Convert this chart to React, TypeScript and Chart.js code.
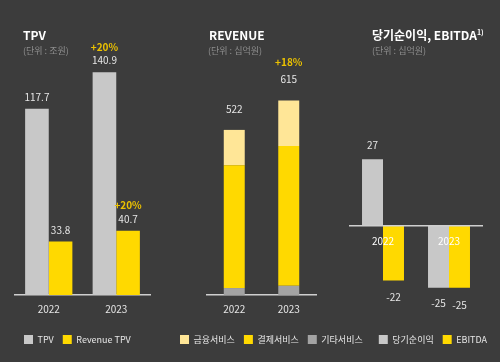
import React, { useEffect, useRef } from "react";
import { Chart, registerables } from "chart.js";

Chart.register(...registerables);

// ---------- data ----------
const YEARS = ["2022", "2023"];

// TPV panel (단위 : 조원)
const TPV = [117.7, 140.9];
const REVENUE_TPV = [33.8, 40.7];
const TPV_GROWTH = ["", "+20%"];
const REVENUE_TPV_GROWTH = ["", "+20%"];

// REVENUE panel (단위 : 십억원)
const FIN_SERVICE = [112, 144]; // 금융서비스
const PAY_SERVICE = [388, 442]; // 결제서비스
const OTHER_SERVICE = [22, 29]; // 기타서비스
const REVENUE_TOTAL = [522, 615];
const REVENUE_GROWTH = ["", "+18%"];

// 당기순이익 / EBITDA panel (단위 : 십억원)
const NET_INCOME = [27, -25];
const EBITDA = [-22, -25];

// ---------- style ----------
const FONT = "'Noto Sans CJK KR', 'Noto Sans', sans-serif";
const BG = "#3c3c3c";
const GREY = "#c8c8c8";
const YELLOW = "#ffd900";
const LIGHT_YELLOW = "#ffe697";
const DARK_GREY = "#a3a3a3";
const AXIS = "#cfcfcf";
const TEXT = "#e6e6e6";
const SUB = "#8e8e8e";
const GROWTH = "#ecc200";

const W = 500;
const H = 362;

type Lbl = { ds: number; i: number; text: string; color: string; dy: number; bold?: boolean };

function labelPlugin(labels: Lbl[]) {
  return {
    id: "barLabels",
    afterDatasetsDraw(chart: any) {
      const ctx = chart.ctx;
      for (const l of labels) {
        if (!l.text) continue;
        const el = chart.getDatasetMeta(l.ds).data[l.i];
        if (!el) continue;
        const p = el.getProps(["x", "y", "base"], true);
        const neg = p.y > p.base;
        ctx.save();
        ctx.font = `${l.bold ? "600 " : ""}10px ${FONT}`;
        ctx.fillStyle = l.color;
        ctx.textAlign = "center";
        ctx.textBaseline = neg ? "top" : "alphabetic";
        ctx.fillText(l.text, p.x, neg ? p.y + l.dy : p.y - l.dy);
        ctx.restore();
      }
    },
  };
}

function spacer(position: string, size: number, horizontal = false) {
  return {
    position,
    display: true,
    grid: { display: false, drawTicks: false },
    border: { display: false },
    ticks: { display: false },
    afterFit: (s: any) => {
      if (horizontal) s.height = size;
      else s.width = size;
    },
  };
}

const legendOpts = (align: string, reverse = false) => ({
  position: "bottom",
  align,
  reverse,
  labels: {
    boxWidth: 9,
    boxHeight: 9,
    padding: 9,
    color: TEXT,
    font: { size: 9, family: FONT },
  },
});

const xTicks = {
  color: TEXT,
  padding: 8,
  font: { size: 10, family: FONT },
};

function tpvConfig(): any {
  const labels: Lbl[] = [];
  TPV.forEach((v, i) => {
    labels.push({ ds: 0, i, text: v.toFixed(1), color: TEXT, dy: 8 });
    labels.push({ ds: 0, i, text: TPV_GROWTH[i], color: GROWTH, dy: 21, bold: true });
  });
  REVENUE_TPV.forEach((v, i) => {
    labels.push({ ds: 1, i, text: v.toFixed(1), color: TEXT, dy: 8 });
    labels.push({ ds: 1, i, text: REVENUE_TPV_GROWTH[i], color: GROWTH, dy: 22, bold: true });
  });
  return {
    type: "bar",
    data: {
      labels: YEARS,
      datasets: [
        { label: "TPV", data: TPV, backgroundColor: GREY, borderWidth: 0 },
        { label: "Revenue TPV", data: REVENUE_TPV, backgroundColor: YELLOW, borderWidth: 0 },
      ],
    },
    options: {
      animation: false,
      responsive: false,
      events: [],
      layout: { padding: { top: 60, left: 15, right: W - 168, bottom: 8 } },
      datasets: { bar: { categoryPercentage: 0.7, barPercentage: 1 } },
      scales: {
        x: {
          grid: { display: false, drawTicks: false },
          border: { display: true, color: AXIS, width: 1.5 },
          ticks: xTicks,
          afterFit: (s: any) => { s.height = 31; },
        },
        y: { ...spacer("left", 0), min: 0, max: 148.6 },
        yR: { ...spacer("right", 18), type: "linear" },
      },
      plugins: { legend: legendOpts("start"), tooltip: { enabled: false } },
    },
    plugins: [labelPlugin(labels)],
  };
}

function revenueConfig(): any {
  const labels: Lbl[] = [];
  REVENUE_TOTAL.forEach((v, i) => {
    labels.push({ ds: 2, i, text: String(v), color: TEXT, dy: 17 });
    labels.push({ ds: 2, i, text: REVENUE_GROWTH[i], color: GROWTH, dy: 22 + 12, bold: true });
  });
  return {
    type: "bar",
    data: {
      labels: YEARS,
      datasets: [
        { label: "기타서비스", data: OTHER_SERVICE, backgroundColor: DARK_GREY, borderWidth: 0 },
        { label: "결제서비스", data: PAY_SERVICE, backgroundColor: YELLOW, borderWidth: 0 },
        { label: "금융서비스", data: FIN_SERVICE, backgroundColor: LIGHT_YELLOW, borderWidth: 0 },
      ],
    },
    options: {
      animation: false,
      responsive: false,
      events: [],
      layout: { padding: { top: 60, left: 171, right: W - 385, bottom: 8 } },
      datasets: { bar: { categoryPercentage: 1, barPercentage: 0.385 } },
      scales: {
        x: {
          stacked: true,
          grid: { display: false, drawTicks: false },
          border: { display: true, color: AXIS, width: 1.5 },
          ticks: xTicks,
          afterFit: (s: any) => { s.height = 31; },
        },
        y: { ...spacer("left", 207 - 171), stacked: true, min: 0, max: 743 },
        yR: { ...spacer("right", 385 - 316), type: "linear" },
      },
      plugins: { legend: legendOpts("start", true), tooltip: { enabled: false } },
    },
    plugins: [labelPlugin(labels)],
  };
}

function profitConfig(): any {
  const labels: Lbl[] = [];
  NET_INCOME.forEach((v, i) => labels.push({ ds: 0, i, text: String(v), color: TEXT, dy: 10 }));
  EBITDA.forEach((v, i) => labels.push({ ds: 1, i, text: String(v), color: TEXT, dy: 12 }));
  return {
    type: "bar",
    data: {
      labels: YEARS,
      datasets: [
        { label: "당기순이익", data: NET_INCOME, backgroundColor: GREY, borderWidth: 0 },
        { label: "EBITDA", data: EBITDA, backgroundColor: YELLOW, borderWidth: 0 },
      ],
    },
    options: {
      animation: false,
      responsive: false,
      events: [],
      layout: { padding: { top: 60, left: 350, right: W - 496, bottom: 8 } },
      datasets: { bar: { categoryPercentage: 0.636, barPercentage: 1 } },
      scales: {
        x: {
          position: { y: 0 },
          grid: { display: false, drawTicks: false },
          border: { display: true, color: AXIS, width: 1.5, z: 1 },
          ticks: { ...xTicks, color: "#ffffff", padding: 9, z: 1 },
        },
        xs: { ...spacer("bottom", 31, true), type: "category", labels: YEARS },
        y: { ...spacer("left", 0), min: -27.9, max: 67.2 },
        yR: { ...spacer("right", 14), type: "linear" },
      },
      plugins: { legend: legendOpts("end"), tooltip: { enabled: false } },
    },
    plugins: [labelPlugin(labels)],
  };
}

function ChartCanvas({ make }: { make: () => any }) {
  const ref = useRef<HTMLCanvasElement>(null);
  useEffect(() => {
    if (!ref.current) return;
    const chart = new Chart(ref.current, make());
    return () => chart.destroy();
  }, [make]);
  return (
    <canvas
      ref={ref}
      width={W}
      height={H}
      style={{ position: "absolute", left: 0, top: 0, width: W, height: H }}
    />
  );
}

const titleStyle = (left: number): React.CSSProperties => ({
  position: "absolute",
  left,
  top: 27,
  fontSize: 12,
  lineHeight: "16px",
  fontWeight: 700,
  color: "#ffffff",
  fontFamily: FONT,
  whiteSpace: "nowrap",
});

const subStyle = (left: number): React.CSSProperties => ({
  position: "absolute",
  left,
  top: 45,
  fontSize: 9,
  lineHeight: "12px",
  color: SUB,
  fontFamily: FONT,
  whiteSpace: "nowrap",
});

export default function App() {
  return (
    <div
      style={{
        position: "absolute",
        left: 0,
        top: 0,
        width: W,
        height: H,
        background: BG,
        overflow: "hidden",
      }}
    >
      <ChartCanvas make={tpvConfig} />
      <ChartCanvas make={revenueConfig} />
      <ChartCanvas make={profitConfig} />
      <div style={titleStyle(23)}>TPV</div>
      <div style={subStyle(23)}>(단위 : 조원)</div>
      <div style={titleStyle(209)}>REVENUE</div>
      <div style={subStyle(208)}>(단위 : 십억원)</div>
      <div style={titleStyle(372)}>
        당기순이익, EBITDA<sup style={{ fontSize: 7, verticalAlign: "top", lineHeight: "10px" }}>1)</sup>
      </div>
      <div style={subStyle(372)}>(단위 : 십억원)</div>
    </div>
  );
}
